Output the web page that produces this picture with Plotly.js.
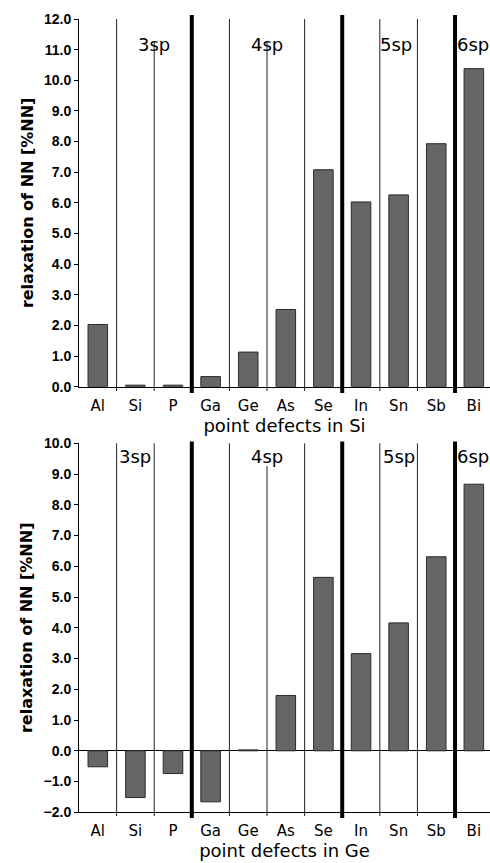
<!DOCTYPE html>
<html>
<head>
<meta charset="utf-8">
<script src="https://cdn.plot.ly/plotly-3.0.1.min.js"></script>
<style>html,body{margin:0;padding:0;overflow:hidden;background:#fff;}</style>
</head>
<body>
<div id="chart" style="width:490px;height:863px;"></div>
<script>
// ---- data ----
const defects = ["Al", "Si", "P", "Ga", "Ge", "As", "Se", "In", "Sn", "Sb", "Bi"];
const relaxSi = [2.03, 0.05, 0.05, 0.33, 1.13, 2.52, 7.08, 6.03, 6.26, 7.93, 10.38];
const relaxGe = [-0.52, -1.52, -0.74, -1.66, 0.03, 1.80, 5.64, 3.16, 4.16, 6.31, 8.67];
const groupLabels = ["3sp", "4sp", "5sp", "6sp"];
const yTitle = "relaxation of NN [%NN]";
const xTitleSi = "point defects in Si";
const xTitleGe = "point defects in Ge";

// ---- layout helpers ----
const H = 863;
const py = p => 1 - p / H;           // pixel row -> paper y
const sepPos = [0.5, 1.5, 2.5, 3.5, 4.5, 5.5, 6.5, 7.5, 8.5, 9.5];
const sepThick = [false, false, true, false, false, false, true, false, false, true];

const barStyle = {color: "#666666", line: {color: "#2a2a2a", width: 1}};
const traces = [
  {type: "bar", x: defects, y: relaxSi, xaxis: "x", yaxis: "y", marker: barStyle, hoverinfo: "x+y"},
  {type: "bar", x: defects, y: relaxGe, xaxis: "x2", yaxis: "y2", marker: barStyle, hoverinfo: "x+y"}
];

const shapes = [];
function addSeps(xref, topFull, topThick, bottomThin, bottomThick, labelTop, labelled) {
  sepPos.forEach((s, i) => {
    const thick = sepThick[i];
    let top = thick ? topThick : (labelled.includes(s) ? labelTop : topFull);
    shapes.push({
      type: "line", xref: xref, yref: "paper", layer: "above",
      x0: s, x1: s, y0: py(thick ? bottomThick : bottomThin), y1: py(top),
      line: {color: thick ? "#000" : "#222", width: thick ? 4 : 1}
    });
  });
}
addSeps("x", 19, 15, 391, 393, 42, [1.5, 4.5]);
addSeps("x2", 443.3, 441.5, 816, 818, 466, [4.5]);

const annFont = {family: "DejaVu Sans", size: 18, color: "#000"};
const annotations = [
  {xref: "x", yref: "paper", x: 1.5, y: py(31.7), text: groupLabels[0], showarrow: false, xanchor: "center", font: annFont},
  {xref: "x", yref: "paper", x: 4.5, y: py(31.7), text: groupLabels[1], showarrow: false, xanchor: "center", font: annFont},
  {xref: "x", yref: "paper", x: 7.5, y: py(31.7), text: groupLabels[2], showarrow: false, xanchor: "left", xshift: -2, font: annFont},
  {xref: "x", yref: "paper", x: 9.5, y: py(31.7), text: groupLabels[3], showarrow: false, xanchor: "left", xshift: 0, font: annFont},
  {xref: "x2", yref: "paper", x: 0.5, y: py(456.5), text: groupLabels[0], showarrow: false, xanchor: "left", xshift: 0, font: annFont},
  {xref: "x2", yref: "paper", x: 4.5, y: py(456.5), text: groupLabels[1], showarrow: false, xanchor: "center", font: annFont},
  {xref: "x2", yref: "paper", x: 7.5, y: py(456.5), text: groupLabels[2], showarrow: false, xanchor: "left", xshift: 1, font: annFont},
  {xref: "x2", yref: "paper", x: 9.5, y: py(456.5), text: groupLabels[3], showarrow: false, xanchor: "left", xshift: 0, font: annFont}
];

const xCommon = {
  type: "category", range: [-0.5, 10.43], showgrid: false, zeroline: false,
  showline: true, linecolor: "#000", linewidth: 1, ticks: "",
  ticklabelstandoff: 5,
  tickfont: {family: "DejaVu Sans", size: 15, color: "#000"},
  automargin: false, fixedrange: true
};
const yCommon = {
  showgrid: false, showline: true, linecolor: "#000", linewidth: 1,
  ticks: "outside", ticklen: 4, tickcolor: "#000", dtick: 1, tickformat: ".1f",
  tickfont: {family: "Liberation Sans", size: 14, color: "#000", weight: "bold"},
  automargin: false, fixedrange: true
};
const yTitleObj = {text: yTitle, font: {family: "DejaVu Sans", size: 16, color: "#000", weight: "bold"}, standoff: 6};

const layout = {
  width: 490, height: 863,
  margin: {l: 79, r: 0, t: 0, b: 0},
  paper_bgcolor: "#fff", plot_bgcolor: "#fff",
  showlegend: false, bargap: 0.48,
  xaxis: Object.assign({}, xCommon, {anchor: "y", domain: [0, 1],
    title: {text: xTitleSi, font: {family: "DejaVu Sans", size: 18, color: "#000"}, standoff: 4}}),
  xaxis2: Object.assign({}, xCommon, {anchor: "y2", domain: [0, 1],
    title: {text: xTitleGe, font: {family: "DejaVu Sans", size: 18, color: "#000"}, standoff: 4}}),
  yaxis: Object.assign({}, yCommon, {anchor: "x", domain: [py(386.7), py(19)], range: [0, 12], zeroline: false,
    title: yTitleObj}),
  yaxis2: Object.assign({}, yCommon, {anchor: "x2", domain: [py(812.3), py(443.3)], range: [-2, 10],
    zeroline: true, zerolinecolor: "#000", zerolinewidth: 1, title: yTitleObj}),
  shapes: shapes,
  annotations: annotations
};

Plotly.newPlot("chart", traces, layout, {displayModeBar: false, staticPlot: true});
</script>
</body>
</html>
